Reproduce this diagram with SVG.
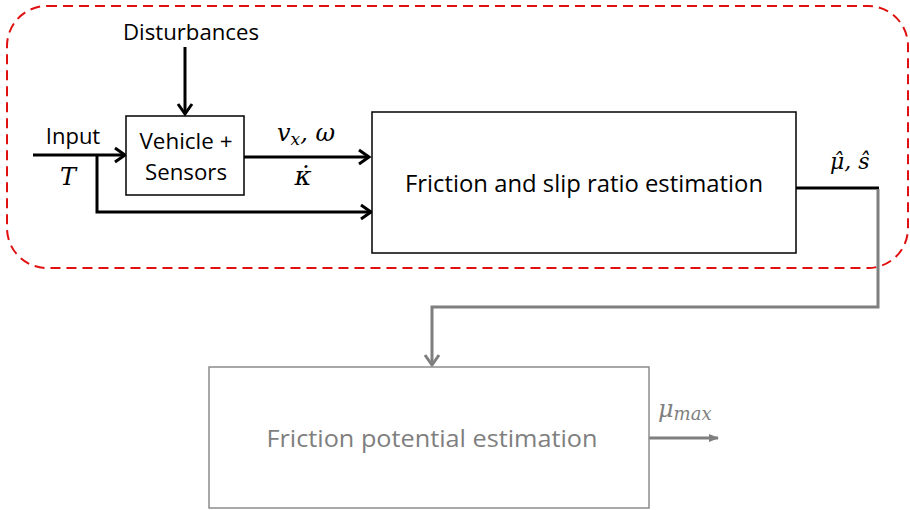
<svg xmlns="http://www.w3.org/2000/svg" width="910" height="510" viewBox="0 0 910 510">
<style>
.t{font-family:"Open Sans","Liberation Sans",sans-serif;fill:#000}
.m{font-family:"DejaVu Serif",serif;font-style:italic;fill:#000}
.blk{stroke:#000;stroke-width:3;fill:none}
.gry{stroke:#7f7f7f;stroke-width:3;fill:none}
</style>
<defs>
<marker id="ab" viewBox="0 0 12 16" refX="11" refY="8" markerWidth="12" markerHeight="16" orient="auto" markerUnits="userSpaceOnUse" style="overflow:visible">
<path d="M1,1 L11,8 L1,15" fill="none" stroke="#000" stroke-width="3"/>
</marker>
<marker id="ag" viewBox="0 0 12 16" refX="11" refY="8" markerWidth="12" markerHeight="16" orient="auto" markerUnits="userSpaceOnUse" style="overflow:visible">
<path d="M1,1 L11,8 L1,15" fill="none" stroke="#7f7f7f" stroke-width="3"/>
</marker>
<marker id="agf" viewBox="0 0 10 10" refX="9" refY="5" markerWidth="10" markerHeight="10" orient="auto" markerUnits="userSpaceOnUse">
<path d="M0,1 L10,5 L0,9 Z" fill="#7f7f7f"/>
</marker>
</defs>
<rect width="910" height="510" fill="#fff"/>
<g id="boundary">
<rect x="7" y="6" width="901" height="262" rx="40" ry="40" fill="none" stroke="#e01010" stroke-width="2" stroke-dasharray="10,6"/>
</g>
<g id="connectors">
<line class="blk" x1="185" y1="47" x2="185" y2="114" marker-end="url(#ab)"/>
<line class="blk" x1="33" y1="155" x2="125" y2="155" marker-end="url(#ab)"/>
<polyline class="blk" points="97,155 97,212 371,212" marker-end="url(#ab)"/>
<line class="blk" x1="244" y1="157" x2="369" y2="157" marker-end="url(#ab)"/>
<line class="blk" x1="796" y1="188" x2="879" y2="188"/>
<polyline class="gry" points="878,189 878,307 432,307 432,365" marker-end="url(#ag)"/>
<line class="gry" x1="649" y1="438" x2="718" y2="438" marker-end="url(#agf)"/>
</g>
<g id="disturbances">
<text class="t" x="191" y="40" font-size="22" text-anchor="middle" textLength="136" lengthAdjust="spacingAndGlyphs">Disturbances</text>
</g>
<g id="input">
<text class="t" x="73" y="144" font-size="22" text-anchor="middle">Input</text>
<text class="m" x="68" y="185" font-size="24" text-anchor="middle">T</text>
</g>
<g id="vehicle">
<rect x="126" y="116" width="118" height="79" fill="#fff" stroke="#000" stroke-width="1.5"/>
<text class="t" x="186" y="149" font-size="21" text-anchor="middle" textLength="93" lengthAdjust="spacingAndGlyphs">Vehicle +</text>
<text class="t" x="186" y="180" font-size="21" text-anchor="middle" textLength="82" lengthAdjust="spacingAndGlyphs">Sensors</text>
</g>
<g id="signals">
<text class="m" x="277" y="141" font-size="24">v<tspan font-size="17" dy="4">x</tspan><tspan dy="-4">, ω</tspan></text>
<text class="m" x="303" y="185" font-size="26" text-anchor="middle">κ̇</text>
</g>
<g id="friction-slip">
<rect x="372" y="112" width="424" height="141" fill="#fff" stroke="#000" stroke-width="1.5"/>
<text class="t" x="584" y="192" font-size="24" text-anchor="middle" textLength="358" lengthAdjust="spacingAndGlyphs">Friction and slip ratio estimation</text>
</g>
<g id="estimates">
<text class="m" x="830" y="169" font-size="22">μ̂, ŝ</text>
</g>
<g id="friction-potential">
<rect x="209" y="367" width="440" height="141" fill="#fff" stroke="#8c8c8c" stroke-width="1.5"/>
<text class="t" x="432" y="447" font-size="24" text-anchor="middle" textLength="331" lengthAdjust="spacingAndGlyphs" style="fill:#7f7f7f">Friction potential estimation</text>
</g>
<g id="mumax">
<text class="m" x="658" y="417" font-size="24" style="fill:#7f7f7f">μ<tspan font-size="18" dy="3">max</tspan></text>
</g>
</svg>
